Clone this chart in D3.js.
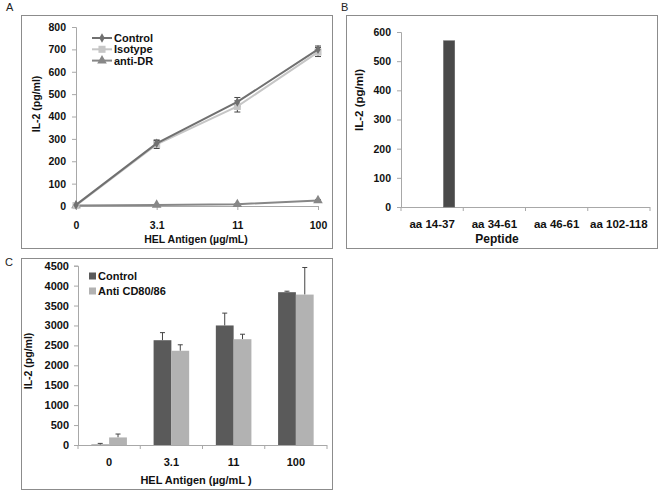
<!DOCTYPE html>
<html><head><meta charset="utf-8">
<script src="https://cdn.jsdelivr.net/npm/d3@7"></script>
<style>body{margin:0;background:#fff}svg{display:block;font-family:"Liberation Sans",Arial,sans-serif}</style>
</head><body><svg id="c" width="661" height="494"></svg>
<script>
// ---- Panel A data ----
const doseCats = ["0", "3.1", "11", "100"];
const aTicks = [0, 100, 200, 300, 400, 500, 600, 700, 800];
const aControl = [5, 280, 465, 700];
const aControlErr = [3, 15, 20, 15];
const aIsotype = [2, 275, 445, 688];
const aIsotypeErr = [2, 18, 25, 20];
const aAntiDR = [2, 5, 8, 25];
const aAntiDRErr = [1, 2, 2, 3];
const aSeriesNames = ["Control", "Isotype", "anti-DR"];
// ---- Panel B data ----
const peptides = ["aa 14-37", "aa 34-61", "aa 46-61", "aa 102-118"];
const bValues = [570, 0, 0, 0];
const bTicks = [0, 100, 200, 300, 400, 500, 600];
// ---- Panel C data ----
const cControl = [10, 2630, 3000, 3835];
const cControlErr = [30, 190, 310, 25];
const cAnti = [190, 2365, 2655, 3775];
const cAntiErr = [85, 150, 125, 680];
const cTicks = [0, 500, 1000, 1500, 2000, 2500, 3000, 3500, 4000, 4500];
const cSeriesNames = ["Control", "Anti CD80/86"];

const svg = d3.select("#c");
const AX = "#a8a8a8";

function frame(x0, y0, x1, y1) {
  svg.append("rect").attr("x", x0 + 0.5).attr("y", y0 + 0.5).attr("width", x1 - x0).attr("height", y1 - y0)
    .attr("fill", "none").attr("stroke", "#8c8c8c").attr("stroke-width", 1);
}
function panelLabel(t, x, y) {
  svg.append("text").attr("x", x).attr("y", y).attr("font-size", 11).attr("fill", "#222").text(t);
}
function styleAxis(g, fs) {
  g.select(".domain").attr("stroke", AX);
  g.selectAll(".tick line").attr("stroke", AX);
  g.selectAll("text").attr("font-size", fs).attr("font-weight", "bold").attr("fill", "#111");
}

// ================= Panel A =================
frame(21, 15, 332, 248);
panelLabel("A", 6, 11);
const ax = d3.scalePoint().domain(doseCats).range([76, 318]);
const ay = d3.scaleLinear().domain([0, 800]).range([206, 27]);
const gAy = svg.append("g").attr("transform", "translate(76,0)")
  .call(d3.axisLeft(ay).tickValues(aTicks).tickSize(4).tickPadding(6));
styleAxis(gAy, 10.5);
const gAx = svg.append("g").attr("transform", "translate(0,206)")
  .call(d3.axisBottom(ax).tickSize(4).tickSizeOuter(0).tickPadding(12));
styleAxis(gAx, 10.5);
gAx.select(".domain").attr("d", "M76,0.5H318");
svg.append("text").attr("x", 196).attr("y", 243).attr("text-anchor", "middle")
  .attr("font-size", 10.5).attr("font-weight", "bold").attr("fill", "#111").text("HEL Antigen (\u00b5g/mL)");
svg.append("text").attr("transform", "translate(40,104) rotate(-90)").attr("text-anchor", "middle")
  .attr("font-size", 10.5).attr("font-weight", "bold").attr("fill", "#111").text("IL-2 (pg/ml)");

const aSeries = [
  { name: aSeriesNames[0], vals: aControl, err: aControlErr, color: "#707070", marker: "diamond", size: 26 },
  { name: aSeriesNames[1], vals: aIsotype, err: aIsotypeErr, color: "#c6c6c6", marker: "square", size: 50 },
  { name: aSeriesNames[2], vals: aAntiDR, err: aAntiDRErr, color: "#878787", marker: "triangle", size: 40 }
];
const symMap = { diamond: d3.symbolDiamond, square: d3.symbolSquare, triangle: d3.symbolTriangle };
const lineA = d3.line().x((d, i) => ax(doseCats[i])).y(d => ay(d));
aSeries.forEach(s => {
  const g = svg.append("g");
  s.vals.forEach((v, i) => {
    const cx = ax(doseCats[i]);
    g.append("line").attr("x1", cx).attr("x2", cx).attr("y1", ay(v - s.err[i])).attr("y2", ay(v + s.err[i]))
      .attr("stroke", "#444").attr("stroke-width", 1);
    [v - s.err[i], v + s.err[i]].forEach(e => g.append("line").attr("x1", cx - 3).attr("x2", cx + 3)
      .attr("y1", ay(e)).attr("y2", ay(e)).attr("stroke", "#444").attr("stroke-width", 1));
  });
});
aSeries.slice().reverse().forEach(s => {
  svg.append("path").datum(s.vals).attr("d", lineA).attr("fill", "none").attr("stroke", s.color).attr("stroke-width", 2);
  svg.append("g").selectAll("path").data(s.vals).join("path")
    .attr("transform", (d, i) => `translate(${ax(doseCats[i])},${ay(d)})`)
    .attr("d", d3.symbol().type(symMap[s.marker]).size(s.size)).attr("fill", s.color);
});
aSeries.forEach((s, i) => {
  const y = 38 + i * 11.3;
  svg.append("line").attr("x1", 92).attr("x2", 112).attr("y1", y).attr("y2", y).attr("stroke", s.color).attr("stroke-width", 2);
  svg.append("path").attr("transform", `translate(102,${y})`).attr("d", d3.symbol().type(symMap[s.marker]).size(s.size)).attr("fill", s.color);
  svg.append("text").attr("x", 114).attr("y", y + 4).attr("font-size", 11).attr("font-weight", "bold").attr("fill", "#111").text(s.name);
});

// ================= Panel B =================
frame(346, 15, 657, 248);
panelLabel("B", 341, 11);
const bx = d3.scaleBand().domain(peptides).range([401, 650]).paddingInner(0).paddingOuter(0);
const by = d3.scaleLinear().domain([0, 600]).range([207, 32]);
const gBy = svg.append("g").attr("transform", "translate(401,0)")
  .call(d3.axisLeft(by).tickValues(bTicks).tickSize(4).tickPadding(6));
styleAxis(gBy, 10.5);
const gBx = svg.append("g").attr("transform", "translate(0,207)")
  .call(d3.axisBottom(bx).tickSize(0).tickPadding(13));
styleAxis(gBx, 11.5);
gBx.select(".domain").attr("d", "M401,0.5H650");
gBx.selectAll(".sep").data(d3.range(peptides.length + 1)).join("line")
  .attr("x1", i => 401 + i * bx.step()).attr("x2", i => 401 + i * bx.step())
  .attr("y1", 0).attr("y2", 4).attr("stroke", AX);
const bw = bx.bandwidth() / 5.5;
svg.append("g").selectAll("rect").data(bValues.map((v, i) => ({ v, c: peptides[i] })).filter(d => d.v > 0)).join("rect")
  .attr("x", d => bx(d.c) + bw * 3.75).attr("width", bw)
  .attr("y", d => by(d.v)).attr("height", d => by(0) - by(d.v))
  .attr("fill", "#4a4a4a").attr("stroke", "#666").attr("stroke-width", 0.5);
svg.append("text").attr("x", 497).attr("y", 243).attr("text-anchor", "middle")
  .attr("font-size", 12).attr("font-weight", "bold").attr("fill", "#111").text("Peptide");
svg.append("text").attr("transform", "translate(363,100) rotate(-90)").attr("text-anchor", "middle")
  .attr("font-size", 11.5).attr("font-weight", "bold").attr("fill", "#111").text("IL-2 (pg/ml)");

// ================= Panel C =================
frame(21, 258, 332, 489);
panelLabel("C", 5, 266);
const cx = d3.scaleBand().domain(doseCats).range([78, 327]).paddingInner(0).paddingOuter(0);
const cy = d3.scaleLinear().domain([0, 4500]).range([445, 265.7]);
const gCy = svg.append("g").attr("transform", "translate(78,0)")
  .call(d3.axisLeft(cy).tickValues(cTicks).tickFormat(d3.format("d")).tickSize(4).tickPadding(5));
styleAxis(gCy, 11);
const gCx = svg.append("g").attr("transform", "translate(0,445)")
  .call(d3.axisBottom(cx).tickSize(0).tickPadding(13));
styleAxis(gCx, 11);
gCx.select(".domain").attr("d", "M78,0.5H327");
gCx.selectAll(".sep").data(d3.range(doseCats.length + 1)).join("line")
  .attr("x1", i => 78 + i * cx.step()).attr("x2", i => 78 + i * cx.step())
  .attr("y1", 0).attr("y2", 4).attr("stroke", AX);
const sub = d3.scaleBand().domain(cSeriesNames).range([cx.bandwidth() * 0.75 / 3.5, cx.bandwidth() * 2.75 / 3.5]);
const cSeries = [
  { name: cSeriesNames[0], vals: cControl, err: cControlErr, color: "#5a5a5a" },
  { name: cSeriesNames[1], vals: cAnti, err: cAntiErr, color: "#b2b2b2" }
];
cSeries.forEach(s => {
  const g = svg.append("g");
  s.vals.forEach((v, i) => {
    const x0 = cx(doseCats[i]) + sub(s.name);
    const mid = x0 + sub.bandwidth() / 2;
    g.append("line").attr("x1", mid).attr("x2", mid).attr("y1", cy(v)).attr("y2", cy(v + s.err[i])).attr("stroke", "#444");
    g.append("line").attr("x1", mid - 2.5).attr("x2", mid + 2.5).attr("y1", cy(v + s.err[i])).attr("y2", cy(v + s.err[i])).attr("stroke", "#444");
    g.append("rect").attr("x", x0).attr("width", sub.bandwidth()).attr("y", cy(v)).attr("height", cy(0) - cy(v))
      .attr("fill", s.color);
  });
});
cSeries.forEach((s, i) => {
  const y = 276 + i * 15;
  svg.append("rect").attr("x", 89).attr("y", y - 3.5).attr("width", 7).attr("height", 7).attr("fill", s.color);
  svg.append("text").attr("x", 98).attr("y", y + 4).attr("font-size", 11).attr("font-weight", "bold").attr("fill", "#111").text(s.name);
});
svg.append("text").attr("x", 196).attr("y", 484).attr("text-anchor", "middle")
  .attr("font-size", 11).attr("font-weight", "bold").attr("fill", "#111").text("HEL Antigen (\u00b5g/mL )");
svg.append("text").attr("transform", "translate(32,361) rotate(-90)").attr("text-anchor", "middle")
  .attr("font-size", 10.5).attr("font-weight", "bold").attr("fill", "#111").text("IL-2 (pg/ml)");
</script></body></html>
